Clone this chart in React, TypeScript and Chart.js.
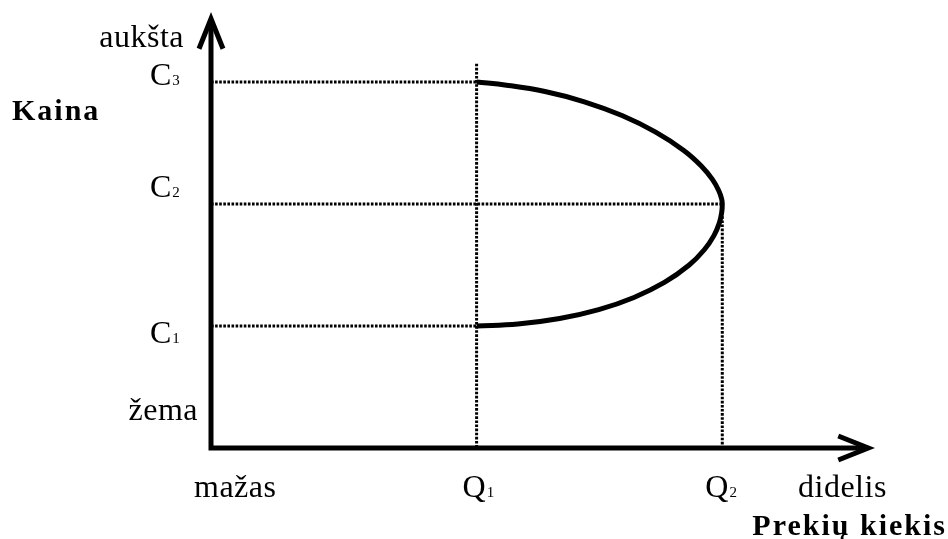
import React, { useEffect, useRef } from "react";
import { Chart, registerables } from "chart.js";

Chart.register(...registerables);

// ---- data (conceptual units) ----
const xAxisMax = 10;
const yAxisMax = 3.574;
const priceValues = [1, 2, 3]; // C1, C2, C3
const priceLetters = ["C", "C", "C"];
const priceSubscripts = ["1", "2", "3"];
const quantityValues = [4, 7.7]; // Q1, Q2
const quantityLetters = ["Q", "Q"];
const quantitySubscripts = ["1", "2"];
// curve, from (Q1, C3) round to (Q2, C2) and back to (Q1, C1)
const curveQuantity = [
  4, 4.45, 5.03, 5.623, 6.19, 6.697, 7.12, 7.384, 7.551, 7.646, 7.69, 7.7,
  7.691, 7.655, 7.574, 7.429, 7.202, 6.828, 6.37, 5.839, 5.25, 4.622, 4,
];
const curvePrice = [
  3, 2.974, 2.922, 2.838, 2.725, 2.589, 2.439, 2.312, 2.202, 2.111, 2.043, 2,
  1.93, 1.843, 1.741, 1.625, 1.5, 1.357, 1.234, 1.134, 1.061, 1.016, 1,
];
const q1GuideTop = 3.15;
const yAxisTitle = "Kaina";
const xAxisTitle = "Prekių kiekis";
const yHigh = "aukšta";
const yLow = "žema";
const xLow = "mažas";
const xHigh = "didelis";

const SERIF = "'Liberation Serif', 'Times New Roman', serif";
const REG = `32px ${SERIF}`;
const BOLD = `bold 30px ${SERIF}`;
const SUB = `15px ${SERIF}`;

function txt(ctx: CanvasRenderingContext2D, s: string, x: number, y: number, font: string, align: CanvasTextAlign = "left", spacing = "0px") {
  ctx.save();
  ctx.font = font;
  (ctx as any).letterSpacing = spacing;
  ctx.textAlign = align;
  ctx.textBaseline = "alphabetic";
  ctx.fillStyle = "#000";
  ctx.fillText(s, x, y);
  ctx.restore();
}

function subLabel(ctx: CanvasRenderingContext2D, letter: string, sub: string, x: number, y: number) {
  ctx.save();
  ctx.font = REG;
  const w = ctx.measureText(letter).width;
  ctx.restore();
  txt(ctx, letter, x, y, REG);
  txt(ctx, sub, x + w + 1, y, SUB);
}

const axesPlugin = {
  id: "axesAndLabels",
  afterDatasetsDraw(chart: any) {
    const ctx: CanvasRenderingContext2D = chart.ctx;
    const xs = chart.scales.x;
    const ys = chart.scales.y;
    const x0 = xs.getPixelForValue(0);
    const y0 = ys.getPixelForValue(0);
    const xEnd = xs.getPixelForValue(xAxisMax);
    const yEnd = ys.getPixelForValue(yAxisMax);
    const lw = 5;
    ctx.save();
    ctx.strokeStyle = "#000";
    ctx.lineWidth = lw;
    ctx.lineCap = "butt";
    ctx.beginPath();
    ctx.moveTo(x0, y0 + lw / 2);
    ctx.lineTo(x0, yEnd + 8);
    ctx.moveTo(x0 - lw / 2, y0);
    ctx.lineTo(xEnd - 8, y0);
    ctx.stroke();
    ctx.lineJoin = "miter";
    ctx.miterLimit = 10;
    const headLen = 30;
    const headHalf = 12;
    const half = Math.atan(headHalf / headLen);
    const ext = lw / 2 / Math.sin(half);
    ctx.beginPath();
    ctx.moveTo(x0 - headHalf, yEnd + ext + headLen);
    ctx.lineTo(x0, yEnd + ext);
    ctx.lineTo(x0 + headHalf, yEnd + ext + headLen);
    ctx.stroke();
    ctx.beginPath();
    ctx.moveTo(xEnd - ext - headLen, y0 - headHalf);
    ctx.lineTo(xEnd - ext, y0);
    ctx.lineTo(xEnd - ext - headLen, y0 + headHalf);
    ctx.stroke();
    ctx.restore();

    const cBaselines = [343, 197, 85];
    priceValues.forEach((v, i) => {
      subLabel(ctx, priceLetters[i], priceSubscripts[i], x0 - 61, cBaselines[i]);
    });
    const qOffsets = [-14, -17];
    quantityValues.forEach((v, i) => {
      subLabel(ctx, quantityLetters[i], quantitySubscripts[i], xs.getPixelForValue(v) + qOffsets[i], y0 + 49);
    });
    txt(ctx, yHigh, x0 - 27, 47, REG, "right", "0.5px");
    txt(ctx, yLow, x0 - 13, 420, REG, "right", "0.5px");
    txt(ctx, xLow, x0 - 17, y0 + 49, REG, "left", "0.5px");
    txt(ctx, xHigh, 798, y0 + 49, REG, "left", "0.5px");
    txt(ctx, yAxisTitle, 12, 120, BOLD, "left", "2px");
    txt(ctx, xAxisTitle, 947, 535, BOLD, "right", "2px");
  },
};

function dotted(points: { x: number; y: number }[]) {
  return {
    data: points,
    showLine: true,
    borderColor: "#000",
    borderWidth: 3,
    borderDash: [2.6, 1.5],
    borderCapStyle: "butt",
    pointRadius: 0,
    tension: 0,
    clip: false,
  };
}

export default function App() {
  const ref = useRef<HTMLCanvasElement>(null);
  useEffect(() => {
    if (!ref.current) return;
    const [c1, c2, c3] = priceValues;
    const [q1, q2] = quantityValues;
    const chart = new Chart(ref.current, {
      type: "scatter",
      data: {
        datasets: [
          dotted([{ x: 0, y: c3 }, { x: q1, y: c3 }]),
          dotted([{ x: 0, y: c2 }, { x: q2, y: c2 }]),
          dotted([{ x: 0, y: c1 }, { x: q1, y: c1 }]),
          dotted([{ x: q1, y: q1GuideTop }, { x: q1, y: 0 }]),
          dotted([{ x: q2, y: c2 }, { x: q2, y: 0 }]),
          {
            data: curveQuantity.map((x, i) => ({ x, y: curvePrice[i] })),
            showLine: true,
            borderColor: "#000",
            borderWidth: 5,
            pointRadius: 0,
            tension: 0.4,
            clip: false,
          },
        ] as any,
      },
      options: {
        responsive: false,
        devicePixelRatio: 1,
        animation: false,
        layout: { padding: { left: 211, right: 73, top: 12, bottom: 91 } },
        scales: {
          x: { type: "linear", min: 0, max: xAxisMax, display: false },
          y: { type: "linear", min: 0, max: yAxisMax, display: false },
        },
        plugins: { legend: { display: false }, tooltip: { enabled: false } },
        events: [],
      },
      plugins: [axesPlugin],
    });
    return () => chart.destroy();
  }, []);
  return (
    <div style={{ position: "fixed", left: 0, top: 0, width: 948, height: 539, background: "#fff" }}>
      <canvas ref={ref} width={948} height={539} style={{ display: "block", width: 948, height: 539 }} />
    </div>
  );
}
